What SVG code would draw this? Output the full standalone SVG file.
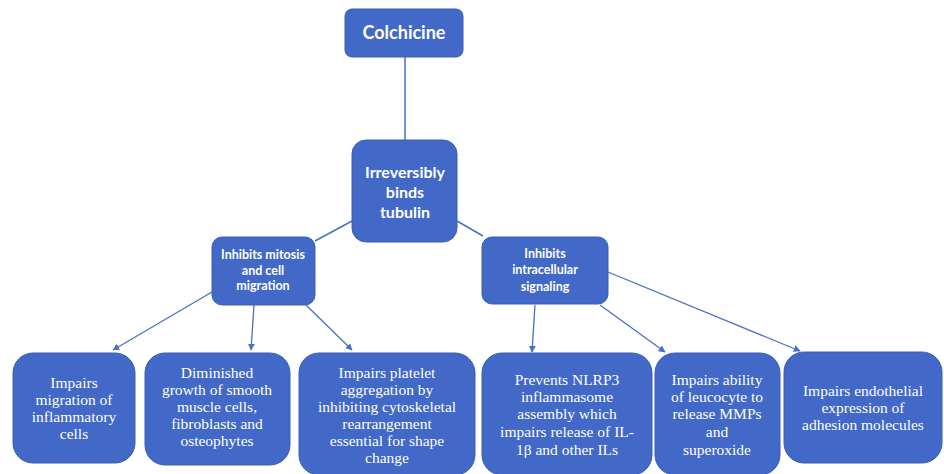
<svg xmlns="http://www.w3.org/2000/svg" width="944" height="474" viewBox="0 0 944 474">
<defs>
<style>
.box{fill:#4268c8;stroke:#3a5fb5;stroke-width:1}
.sans{font-family:Lato,"Open Sans","Liberation Sans",sans-serif;fill:#fff;text-anchor:middle}
.serif{font-family:"Liberation Serif","Times New Roman",serif;fill:#fff;text-anchor:middle;font-size:15.5px}
.ln{stroke:#4472c4;stroke-width:1.5;fill:none}
.ar{stroke:#4472c4;stroke-width:1.3;fill:none;marker-end:url(#ah)}
</style>
<marker id="ah" viewBox="0 0 10 10" refX="9" refY="5" markerWidth="7" markerHeight="7" orient="auto" markerUnits="userSpaceOnUse">
<path d="M0,0 L10,5 L0,10 z" fill="#4472c4"/>
</marker>
</defs>
<rect width="944" height="474" fill="#fff"/>
<g id="connectors">
<line class="ln" x1="405" y1="57" x2="405" y2="140"/>
<line class="ln" x1="352" y1="221" x2="315" y2="241"/>
<line class="ln" x1="457" y1="221" x2="483" y2="236"/>
<line class="ar" x1="212" y1="292" x2="113" y2="350"/>
<line class="ar" x1="254" y1="305" x2="251" y2="350"/>
<line class="ar" x1="306" y1="305" x2="352" y2="350"/>
<line class="ar" x1="535" y1="305" x2="532" y2="352"/>
<line class="ar" x1="600" y1="305" x2="665" y2="352"/>
<line class="ar" x1="608" y1="272" x2="800" y2="351"/>
</g>
<g id="colchicine">
<rect class="box" x="345" y="9" width="118" height="48" rx="7"/>
<text class="sans" x="404" y="39" font-size="18" font-weight="700">Colchicine</text>
</g>
<g id="tubulin">
<rect class="box" x="352" y="140" width="105" height="102" rx="14"/>
<text class="sans" font-size="16" font-weight="700"><tspan x="405" y="178">Irreversibly</tspan><tspan x="405" y="198">binds</tspan><tspan x="405" y="218">tubulin</tspan></text>
</g>
<g id="mitosis">
<rect class="box" x="212" y="237" width="103" height="68" rx="10"/>
<text class="sans" font-size="12.5" font-weight="700"><tspan x="263" y="259">Inhibits mitosis</tspan><tspan x="263" y="275">and cell</tspan><tspan x="263" y="290">migration</tspan></text>
</g>
<g id="signaling">
<rect class="box" x="482" y="237" width="126" height="67" rx="10"/>
<text class="sans" font-size="12.5" font-weight="700"><tspan x="545" y="258">Inhibits</tspan><tspan x="545" y="274">intracellular</tspan><tspan x="545" y="291">signaling</tspan></text>
</g>
<g id="migration">
<rect class="box" x="13" y="353" width="122" height="110" rx="20"/>
<text class="serif"><tspan x="74" y="388">Impairs</tspan><tspan x="74" y="405">migration of</tspan><tspan x="74" y="422">inflammatory</tspan><tspan x="74" y="439">cells</tspan></text>
</g>
<g id="diminished">
<rect class="box" x="145" y="353" width="145" height="112" rx="20"/>
<text class="serif"><tspan x="217" y="378">Diminished</tspan><tspan x="217" y="395">growth of smooth</tspan><tspan x="217" y="412">muscle cells,</tspan><tspan x="217" y="429">fibroblasts and</tspan><tspan x="217" y="446">osteophytes</tspan></text>
</g>
<g id="platelet">
<rect class="box" x="299" y="353" width="176" height="122" rx="20"/>
<text class="serif"><tspan x="387" y="378">Impairs platelet</tspan><tspan x="387" y="395">aggregation by</tspan><tspan x="387" y="412">inhibiting cytoskeletal</tspan><tspan x="387" y="429">rearrangement</tspan><tspan x="387" y="446">essential for shape</tspan><tspan x="387" y="463">change</tspan></text>
</g>
<g id="nlrp3">
<rect class="box" x="482" y="353" width="170" height="122" rx="20"/>
<text class="serif"><tspan x="567" y="385">Prevents NLRP3</tspan><tspan x="567" y="402">inflammasome</tspan><tspan x="567" y="419">assembly which</tspan><tspan x="567" y="437">impairs release of IL-</tspan><tspan x="567" y="455">1β and other ILs</tspan></text>
</g>
<g id="leucocyte">
<rect class="box" x="655" y="353" width="125" height="122" rx="20"/>
<text class="serif"><tspan x="717" y="385">Impairs ability</tspan><tspan x="717" y="402">of leucocyte to</tspan><tspan x="717" y="419">release MMPs</tspan><tspan x="717" y="437">and</tspan><tspan x="717" y="455">superoxide</tspan></text>
</g>
<g id="endothelial">
<rect class="box" x="784" y="352" width="158" height="111" rx="20"/>
<text class="serif"><tspan x="863" y="396">Impairs endothelial</tspan><tspan x="863" y="413">expression of</tspan><tspan x="863" y="430">adhesion molecules</tspan></text>
</g>
</svg>
